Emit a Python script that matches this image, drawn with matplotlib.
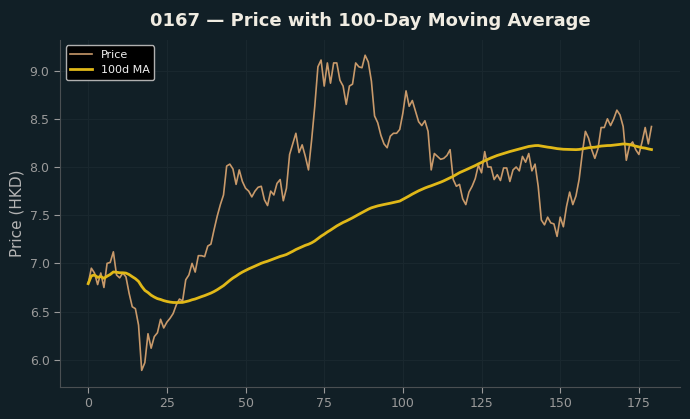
import matplotlib
matplotlib.use("Agg")
import matplotlib.pyplot as plt
import numpy as np
import pandas as pd

title = "0167 \u2014 Price with 100-Day Moving Average"
ylabel = "Price (HKD)"
price = [
    6.79, 6.95, 6.90, 6.78, 6.90, 6.75, 7.00, 7.01, 7.12, 6.88,
    6.85, 6.90, 6.86, 6.69, 6.55, 6.53, 6.36, 5.89, 5.97, 6.27,
    6.12, 6.24, 6.28, 6.42, 6.33, 6.39, 6.43, 6.48, 6.57, 6.63,
    6.61, 6.83, 6.88, 7.00, 6.91, 7.08, 7.08, 7.07, 7.18, 7.20,
    7.35, 7.49, 7.61, 7.71, 8.01, 8.03, 7.98, 7.82, 7.97, 7.85,
    7.78, 7.75, 7.69, 7.75, 7.79, 7.80, 7.66, 7.60, 7.75, 7.71,
    7.83, 7.87, 7.65, 7.78, 8.13, 8.24, 8.35, 8.15, 8.23, 8.11,
    7.97, 8.28, 8.63, 9.04, 9.11, 8.84, 9.08, 8.87, 9.08, 9.08,
    8.90, 8.84, 8.65, 8.84, 8.86, 9.08, 9.04, 9.03, 9.16, 9.09,
    8.89, 8.53, 8.46, 8.33, 8.24, 8.20, 8.32, 8.35, 8.35, 8.39,
    8.56, 8.79, 8.63, 8.69, 8.58, 8.47, 8.43, 8.48, 8.37, 7.97,
    8.14, 8.11, 8.08, 8.09, 8.12, 8.18, 7.87, 7.80, 7.82, 7.67,
    7.61, 7.74, 7.80, 7.88, 8.02, 7.94, 8.16, 8.00, 8.00, 7.87,
    7.92, 7.86, 7.99, 7.99, 7.85, 7.97, 8.00, 7.96, 8.11, 8.05,
    8.14, 7.96, 8.03, 7.80, 7.45, 7.40, 7.48, 7.42, 7.41, 7.28,
    7.48, 7.38, 7.59, 7.74, 7.61, 7.70, 7.87, 8.14, 8.37, 8.30,
    8.18, 8.09, 8.19, 8.41, 8.41, 8.50, 8.43, 8.50, 8.59, 8.54,
    8.42, 8.07, 8.22, 8.26, 8.18, 8.13, 8.26, 8.41, 8.24, 8.42,
]
days = np.arange(len(price))
ma100 = pd.Series(price).rolling(100, min_periods=1).mean().to_numpy()

bg = "#111f26"
fig = plt.figure(figsize=(6.9, 4.19), dpi=100, facecolor=bg)
ax = fig.add_axes([0.087, 0.077, 0.898, 0.828], facecolor=bg)

ax.plot(days, price, color="#c8996a", lw=1.2, label="Price")
ax.plot(days, ma100, color="#e0b818", lw=2.0, label="100d MA")

ax.set_xlim(-8.95, 187.95)
ax.set_ylim(5.72, 9.32)
ax.set_yticks([6.0, 6.5, 7.0, 7.5, 8.0, 8.5, 9.0])
ax.set_xticks([0, 25, 50, 75, 100, 125, 150, 175])
ax.grid(True, color="#19272e", lw=0.8)
ax.set_axisbelow(True)
for s in ["top", "right"]:
    ax.spines[s].set_visible(False)
for s in ["left", "bottom"]:
    ax.spines[s].set_color("#4a4f52")
ax.tick_params(colors="#9a9a9a", labelsize=9, length=4)
ax.set_ylabel(ylabel, color="#b4b4b4", fontsize=11)
ax.set_title(title, color="#f0ece2", fontsize=13, fontweight="bold", pad=10)

leg = ax.legend(loc="upper left", fontsize=8, facecolor="#000000",
                edgecolor="#b0b0b0", framealpha=1.0, labelcolor="#f0f0f0")

fig.savefig("out.png", dpi=100, facecolor=bg)
